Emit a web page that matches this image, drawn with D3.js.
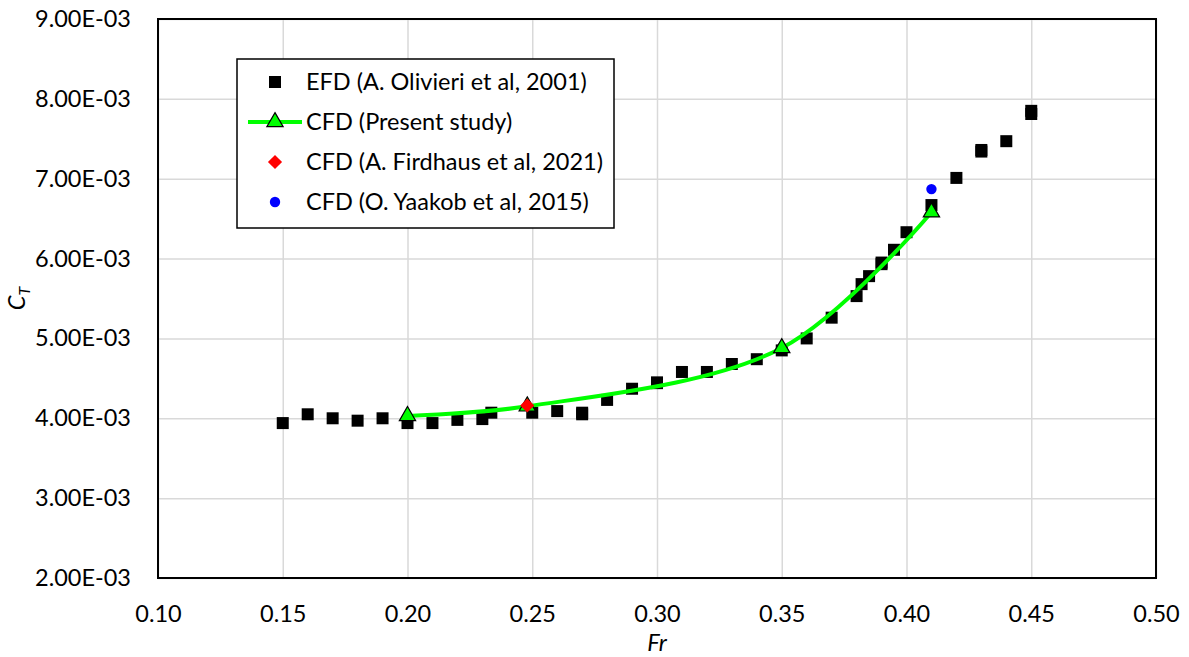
<!DOCTYPE html>
<html>
<head>
<meta charset="utf-8">
<script src="https://cdn.jsdelivr.net/npm/d3@7"></script>
<style>
  body { margin: 0; background: #fff; }
  text { font-family: Lato, "Open Sans", sans-serif; fill: #000; }
</style>
</head>
<body>
<div id="chart"></div>
<script>
// EFD (A. Olivieri et al, 2001)
var efdFr = [0.15, 0.16, 0.17, 0.18, 0.19, 0.20, 0.21, 0.22, 0.23, 0.2336, 0.25, 0.26, 0.27, 0.27,
  0.28, 0.29, 0.30, 0.30, 0.31, 0.32, 0.33, 0.34, 0.35, 0.36, 0.37, 0.38, 0.382, 0.385, 0.39, 0.39,
  0.395, 0.40, 0.41, 0.42, 0.43, 0.43, 0.44, 0.45, 0.45];
var efdCt = [3.94, 4.05, 4.00, 3.97, 4.00, 3.94, 3.94, 3.98, 3.99, 4.07, 4.07, 4.09, 4.07, 4.05,
  4.23, 4.37, 4.44, 4.45, 4.58, 4.58, 4.68, 4.74, 4.85, 5.00, 5.26, 5.53, 5.68, 5.78, 5.93, 5.95,
  6.11, 6.33, 6.67, 7.01, 7.34, 7.36, 7.47, 7.81, 7.85];

// CFD (Present study)
var cfdFr = [0.20, 0.248, 0.35, 0.41];
var cfdCt = [4.03, 4.15, 4.88, 6.58];

// CFD (A. Firdhaus et al, 2021)
var firdFr = [0.248];
var firdCt = [4.16];

// CFD (O. Yaakob et al, 2015)
var yaakFr = [0.41];
var yaakCt = [6.87];

var xTicks = [0.10, 0.15, 0.20, 0.25, 0.30, 0.35, 0.40, 0.45, 0.50];
var yTicks = [2, 3, 4, 5, 6, 7, 8, 9]; // x 1e-3

var legendLabels = ["EFD (A. Olivieri et al, 2001)", "CFD (Present study)",
  "CFD (A. Firdhaus et al, 2021)", "CFD (O. Yaakob et al, 2015)"];

var W = 1189, H = 657;
var margin = {left: 158, right: 33, top: 19, bottom: 79};
var fs = 23.5;

var svg = d3.select('#chart').append('svg')
    .attr('width', W)
    .attr('height', H);

var x = d3.scaleLinear().domain([0.10, 0.50]).range([margin.left, W - margin.right]);
var y = d3.scaleLinear().domain([2, 9]).range([H - margin.bottom, margin.top]);

function pts(a, b) { return a.map(function (v, i) { return [v, b[i]]; }); }

// grid
svg.append('g')
  .attr('transform', 'translate(0,' + (H - margin.bottom) + ')')
  .call(d3.axisBottom(x).tickValues(xTicks).tickSize(-(H - margin.top - margin.bottom)).tickFormat(''))
  .call(function (g) { g.select('.domain').remove(); g.selectAll('line').attr('stroke', '#d9d9d9').attr('stroke-width', 1.5); });
svg.append('g')
  .attr('transform', 'translate(' + margin.left + ',0)')
  .call(d3.axisLeft(y).tickValues(yTicks).tickSize(-(W - margin.left - margin.right)).tickFormat(''))
  .call(function (g) { g.select('.domain').remove(); g.selectAll('line').attr('stroke', '#d9d9d9').attr('stroke-width', 1.5); });

// tick labels
svg.append('g')
  .attr('transform', 'translate(0,' + (H - margin.bottom) + ')')
  .call(d3.axisBottom(x).tickValues(xTicks).tickSize(0).tickPadding(27).tickFormat(d3.format('.2f')))
  .call(function (g) {
    g.select('.domain').remove();
    g.selectAll('text').attr('font-size', fs).attr('font-family', 'Lato');
  });
svg.append('g')
  .attr('transform', 'translate(' + margin.left + ',0)')
  .call(d3.axisLeft(y).tickValues(yTicks).tickSize(0).tickPadding(27)
    .tickFormat(function (d) { return d.toFixed(2) + 'E-03'; }))
  .call(function (g) {
    g.select('.domain').remove();
    g.selectAll('text').attr('font-size', fs).attr('font-family', 'Lato');
  });

// frame
svg.append('rect')
  .attr('x', margin.left).attr('y', margin.top)
  .attr('width', W - margin.left - margin.right)
  .attr('height', H - margin.top - margin.bottom)
  .attr('fill', 'none').attr('stroke', '#000').attr('stroke-width', 2);

// axis titles
svg.append('text')
  .attr('x', (margin.left + W - margin.right) / 2)
  .attr('y', 651)
  .attr('text-anchor', 'middle')
  .attr('font-size', fs)
  .attr('font-style', 'italic')
  .text('Fr');

var ct = svg.append('text')
  .attr('transform', 'translate(25,' + ((margin.top + H - margin.bottom) / 2) + ') rotate(-90)')
  .attr('text-anchor', 'middle')
  .attr('font-size', fs)
  .attr('font-style', 'italic');
ct.append('tspan').text('C');
ct.append('tspan').attr('font-size', 16).attr('dy', 5).text('T');

// symbols
var sq = d3.symbol().type(d3.symbolSquare).size(144);
var tri = d3.symbol().type(d3.symbolTriangle).size(115);
var dia = d3.symbol().type(d3.symbolSquare).size(100); // rotated 45deg when drawn
var circ = d3.symbol().type(d3.symbolCircle).size(85);

// EFD squares
svg.append('g').selectAll('path')
  .data(pts(efdFr, efdCt))
  .enter().append('path')
  .attr('d', sq)
  .attr('transform', function (d) { return 'translate(' + x(d[0]) + ',' + y(d[1]) + ')'; })
  .attr('fill', '#000');

// CFD present study line
var line = d3.line()
  .x(function (d) { return x(d[0]); })
  .y(function (d) { return y(d[1]); })
  .curve(d3.curveCatmullRom.alpha(0.5));

svg.append('path')
  .datum(pts(cfdFr, cfdCt))
  .attr('d', line)
  .attr('fill', 'none')
  .attr('stroke', '#00ff00')
  .attr('stroke-width', 4);

svg.append('g').selectAll('path')
  .data(pts(cfdFr, cfdCt))
  .enter().append('path')
  .attr('d', tri)
  .attr('transform', function (d) { return 'translate(' + x(d[0]) + ',' + y(d[1]) + ')'; })
  .attr('fill', '#00ff00')
  .attr('stroke', '#000')
  .attr('stroke-width', 1.2);

svg.append('g').selectAll('path')
  .data(pts(firdFr, firdCt))
  .enter().append('path')
  .attr('d', dia)
  .attr('transform', function (d) { return 'translate(' + x(d[0]) + ',' + y(d[1]) + ') rotate(45)'; })
  .attr('fill', '#ff0000');

svg.append('g').selectAll('path')
  .data(pts(yaakFr, yaakCt))
  .enter().append('path')
  .attr('d', circ)
  .attr('transform', function (d) { return 'translate(' + x(d[0]) + ',' + y(d[1]) + ')'; })
  .attr('fill', '#0000ff');

// legend
var lg = svg.append('g').attr('transform', 'translate(237,59)');
lg.append('rect')
  .attr('width', 377).attr('height', 169)
  .attr('fill', '#fff').attr('stroke', '#000').attr('stroke-width', 1.5);

var rows = lg.selectAll('.legend')
  .data(legendLabels)
  .enter().append('g')
  .attr('class', 'legend')
  .attr('transform', function (d, i) { return 'translate(0,' + (23 + i * 40) + ')'; });

rows.append('text')
  .attr('x', 69)
  .attr('y', 8)
  .attr('font-size', fs)
  .text(function (d) { return d; });

rows.filter(function (d, i) { return i === 1; })
  .append('line')
  .attr('x1', 11).attr('x2', 65)
  .attr('stroke', '#00ff00').attr('stroke-width', 4);

rows.append('path')
  .attr('transform', function (d, i) { return 'translate(38,0)' + (i === 2 ? ' rotate(45)' : ''); })
  .attr('d', function (d, i) { return [sq, tri, dia, circ][i](); })
  .attr('fill', function (d, i) { return ['#000', '#00ff00', '#ff0000', '#0000ff'][i]; })
  .attr('stroke', function (d, i) { return i === 1 ? '#000' : 'none'; })
  .attr('stroke-width', 1.2);
</script>
</body>
</html>
